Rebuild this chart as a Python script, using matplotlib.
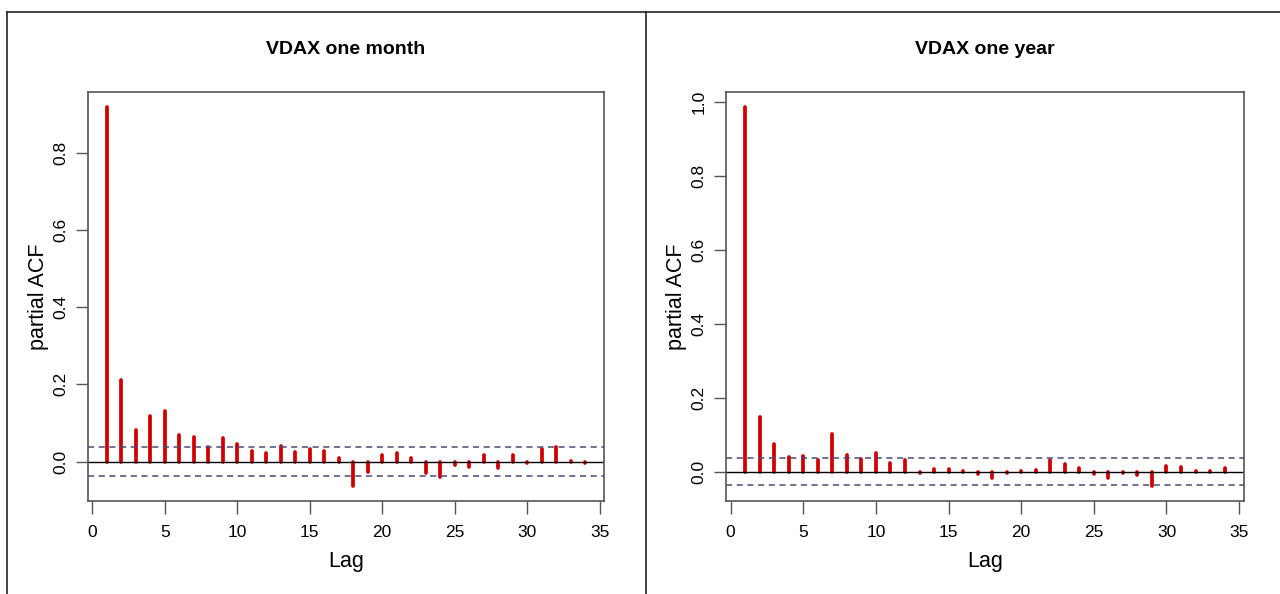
import numpy as np
import matplotlib
matplotlib.use('Agg')
import matplotlib.pyplot as plt
from matplotlib.lines import Line2D

plt.rcParams['font.family'] = ['Liberation Sans', 'DejaVu Sans']

lags = np.arange(1, 35)
# partial ACF values
pacf_month = [0.920, 0.211, 0.082, 0.117, 0.130, 0.070, 0.063, 0.037, 0.061, 0.045,
              0.028, 0.021, 0.040, 0.025, 0.033, 0.028, 0.010, -0.063, -0.027, 0.016,
              0.021, 0.009, -0.031, -0.041, -0.010, -0.013, 0.016, -0.016, 0.016, -0.003,
              0.032, 0.038, 0.001, -0.005]
pacf_year = [0.987, 0.148, 0.076, 0.040, 0.043, 0.033, 0.101, 0.045, 0.034, 0.052,
             0.025, 0.033, -0.003, 0.007, 0.007, 0.001, -0.006, -0.017, -0.003, 0.001,
             0.006, 0.033, 0.021, 0.010, -0.007, -0.017, -0.002, -0.010, -0.038, 0.015,
             0.014, 0.002, 0.001, 0.009]
ci_month = 0.038
ci_year = 0.036
titles = ['VDAX one month', 'VDAX one year']


def pacf_panel(ax, vals, ci, title, yticks):
    ax.vlines(lags, 0, vals, color='#d40000', lw=2.7, capstyle='round')
    ax.axhline(0, color='black', lw=1)
    ax.axhline(ci, color='#4a4a7c', lw=1.1, ls=(0, (4, 3)))
    ax.axhline(-ci, color='#4a4a7c', lw=1.1, ls=(0, (4, 3)))
    lo, hi = min(min(vals), -ci), max(max(vals), ci)
    pad = 0.04 * (hi - lo)
    ax.set_ylim(lo - pad, hi + pad)
    ax.set_xlim(1 - 0.04 * 33, 34 + 0.04 * 33)
    ax.set_xticks(range(0, 36, 5))
    ax.set_yticks(yticks)
    ax.set_yticklabels([f'{t:.1f}' for t in yticks], rotation=90, va='center')
    ax.tick_params(direction='out', length=9, width=1, color='#555555', labelsize=12.5)
    ax.tick_params(axis='x', pad=8)
    ax.tick_params(axis='y', pad=5)
    for s in ax.spines.values():
        s.set_color('#555555')
        s.set_linewidth(1.2)
    ax.set_xlabel('Lag', fontsize=15.5, labelpad=8)
    ax.set_ylabel('partial ACF', fontsize=15.5, labelpad=3)
    ax.set_title(title, fontsize=14, fontweight='bold', pad=27)


fig = plt.figure(figsize=(12.8, 5.94), dpi=100)
ax1 = fig.add_axes([0.0685, 0.1566, 0.4036, 0.689])
ax2 = fig.add_axes([0.5672, 0.1566, 0.4045, 0.689])
pacf_panel(ax1, pacf_month, ci_month, titles[0], [0.0, 0.2, 0.4, 0.6, 0.8])
pacf_panel(ax2, pacf_year, ci_year, titles[1], [0.0, 0.2, 0.4, 0.6, 0.8, 1.0])

# outer frame lines
fig.add_artist(Line2D([0.0055, 1], [0.9798, 0.9798], color='#222222', lw=1.2))
fig.add_artist(Line2D([0.0055, 0.0055], [0, 0.9798], color='#222222', lw=1.2))
fig.add_artist(Line2D([0.5047, 0.5047], [0, 0.9798], color='#222222', lw=1.2))

plt.savefig('out.png', dpi=100)
